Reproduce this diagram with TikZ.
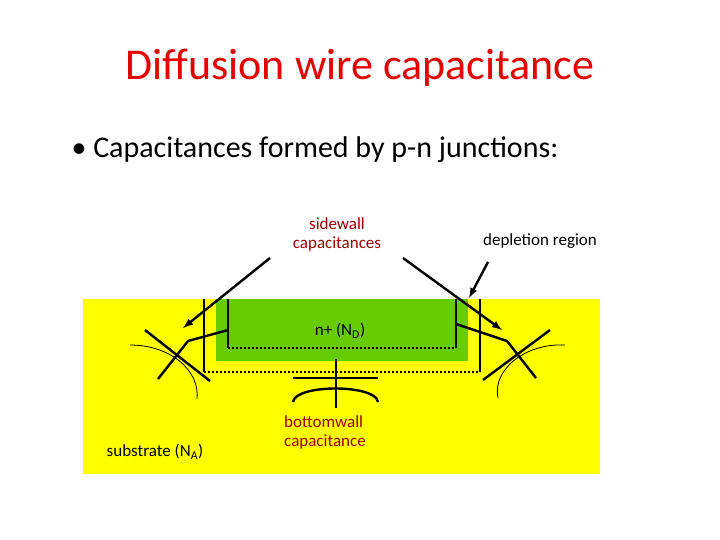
\documentclass[tikz,border=0pt]{standalone}
\usepackage{fontspec}
\setmainfont{Carlito}
\begin{document}
\begin{tikzpicture}[x=1pt,y=-1pt,
  wire/.style={line width=2.4pt,black},
  arr/.style={line width=2.4pt,-latex},
  lbl/.style={font=\fontsize{17}{19}\selectfont,text=black,align=center}]
\useasboundingbox (0,0) rectangle (720,540);
\fill[fill={rgb,255:red,255;green,255;blue,0}] (83,299) rectangle (600,474);
\fill[fill={rgb,255:red,102;green,204;blue,0}] (216,299) rectangle (468,361);
% inner
\draw[wire] (228,299) -- (228,348);
\draw[wire] (456,299) -- (456,348);
\draw[line width=2pt,dotted] (228,348) -- (456,348);
% outer
\draw[wire] (204,299) -- (204,372);
\draw[wire] (480,299) -- (480,372);
\draw[line width=2pt,dotted] (204,372) -- (480,372);
% left cap
\draw[wire] (228,330) -- (188,341) -- (158,379);
\draw[wire] (145,330) -- (210,381);
\draw[line width=0.8pt] (130,345) .. controls (170,345) and (200,370) .. (197,399);
% right cap
\draw[wire] (456,324) -- (507,341) -- (536,378);
\draw[wire] (483,380) -- (550,330);
\draw[line width=0.8pt] (565,345) .. controls (525,343) and (492,370) .. (498,398);
% bottom cap
\draw[wire] (336,359) -- (336,408);
\draw[wire] (293,378) -- (378,378);
\draw[wire] (293,402) .. controls (295,384) and (376,384) .. (378,402);
% arrows
\node[lbl,text=red!60!black] (sw) at (337,234) {sidewall\\capacitances};
\coordinate (a1) at (183,328);
\coordinate (a2) at (502,330);
\draw[arr] (270,258) -- (a1);
\draw[arr] (403,258) -- (a2);
\node[lbl] (dep) at (540,241) {depletion region};
\coordinate (a3) at (469,298);
\draw[arr] (488,262) -- (a3);
\node[lbl] (nd) at (340,331) {n+ (N\textsubscript{D})};
\node[lbl,text=red!60!black,align=left] (bw) at (325,432) {bottomwall\\capacitance};
\node[lbl] (sub) at (155,452) {substrate (N\textsubscript{A})};
\node[font=\fontsize{44}{50}\selectfont,text=red!90!black] (t) at (360,68) {Diffusion wire capacitance};
\node[font=\fontsize{30}{36}\selectfont,anchor=west] (b) at (68,150) {• Capacitances formed by p-n junctions:};
\end{tikzpicture}
\end{document}
